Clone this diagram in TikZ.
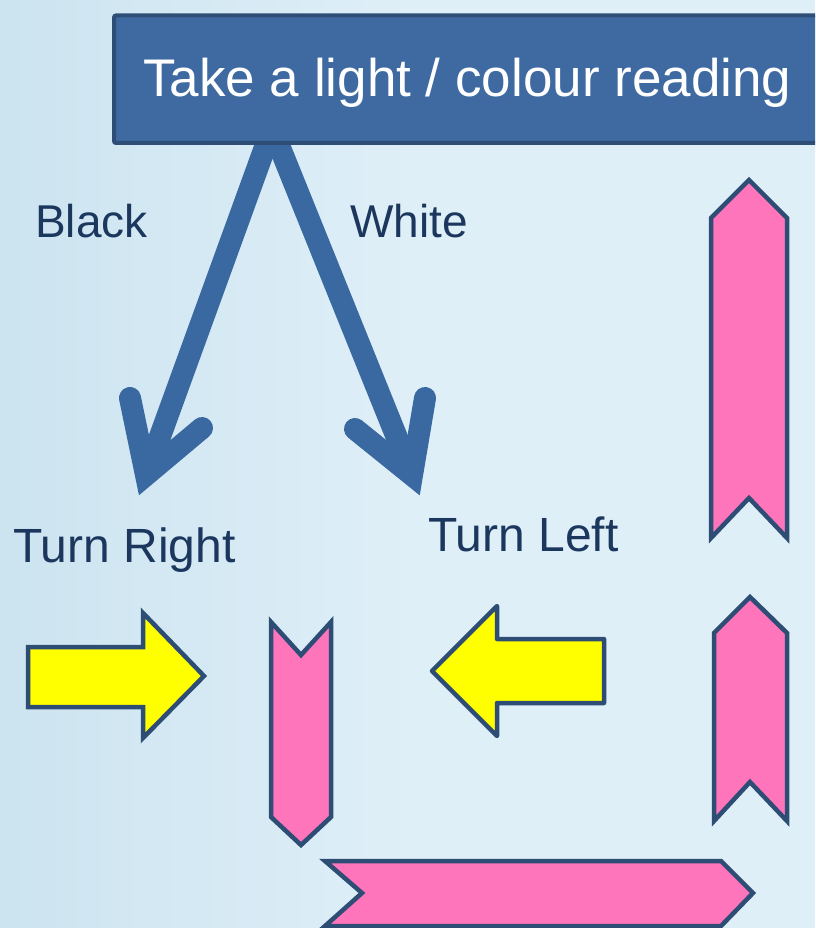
\documentclass[tikz,border=0pt]{standalone}
\usepackage{fontspec}
\setmainfont{Liberation Sans}
\definecolor{bgL}{HTML}{CCE4F0}
\definecolor{bgR}{HTML}{DFEFF8}
\definecolor{titlefill}{HTML}{3E6AA1}
\definecolor{titleline}{HTML}{2E4E76}
\definecolor{arrowblue}{HTML}{3A68A1}
\definecolor{labelblue}{HTML}{1B375E}
\definecolor{shapeline}{HTML}{2D4D74}
\definecolor{pinkfill}{HTML}{FF75BC}
\definecolor{yellowfill}{HTML}{FFFF00}
\begin{document}
\begin{tikzpicture}[x=1pt,y=-1pt,
  titlebox/.style={draw=titleline, fill=titlefill, line width=4pt, rounded corners=2pt, inner sep=0pt},
  shaft/.style={draw=arrowblue, line width=22pt, line cap=butt},
  headstroke/.style={draw=arrowblue, line width=22pt, line cap=round, line join=miter},
  label/.style={text=labelblue, anchor=base west, inner sep=0pt, font=\fontsize{46}{50}\selectfont},
  yshape/.style={draw=shapeline, fill=yellowfill, line width=4.5pt, line join=miter},
  pshape/.style={draw=shapeline, fill=pinkfill, line width=4.5pt, line join=miter}]
\clip (0,0) rectangle (815,928);
\useasboundingbox (0,0) rectangle (815,928);
\fill[bgR] (0,0) rectangle (815,928);
\shade[left color=bgL, right color=bgR] (0,0) rectangle (420,928);

% V-shaped arrows
\coordinate (apex) at (272,128);
\coordinate (lv) at (146,475);
\coordinate (la1) at (130,398);
\coordinate (la2) at (202,428);
\coordinate (rv) at (412,475);
\coordinate (ra1) at (425,398);
\coordinate (ra2) at (355,429);
\draw[shaft] (apex) -- (lv);
\draw[shaft] (apex) -- (rv);
\draw[headstroke] (la1) -- (lv) -- (la2);
\draw[headstroke] (ra1) -- (rv) -- (ra2);

% title
\node[titlebox, anchor=north west, minimum width=730pt, minimum height=127.5pt] (title) at (112,13.5) {};
\node[anchor=base west, inner sep=0pt, text=white, font=\fontsize{53}{60}\selectfont] (titletext) at (143,97) {Take a light / colour reading};

% labels
\node[label] (black) at (35,237) {Black};
\node[label] (white) at (350,237) {White};
\node[label, font=\fontsize{48}{52}\selectfont] (tright) at (13,562) {Turn Right};
\node[label, font=\fontsize{48}{52}\selectfont] (tleft) at (428,551) {Turn Left};

% yellow arrows
\draw[yshape] (28,647) -- (143,647) -- (143,613) -- (204,676) -- (143,738) -- (143,707) -- (28,707) -- cycle;
\draw[yshape, line join=round] (432,671) -- (497,606) -- (497,639) -- (604,639) -- (604,703) -- (497,703) -- (497,736) -- cycle;

% pink chevrons
\draw[pshape] (271,622) -- (301,655) -- (331,622) -- (331,817) -- (301,845) -- (271,817) -- cycle;
\draw[pshape] (749,180) -- (787,218) -- (787,538) -- (749,498) -- (711,538) -- (711,218) -- cycle;
\draw[pshape] (750,597) -- (787,633) -- (787,821) -- (750,782) -- (714,821) -- (714,633) -- cycle;
\draw[pshape] (325,861) -- (721,861) -- (753,893) -- (721,926) -- (325,926) -- (362,893) -- cycle;
\end{tikzpicture}
\end{document}
